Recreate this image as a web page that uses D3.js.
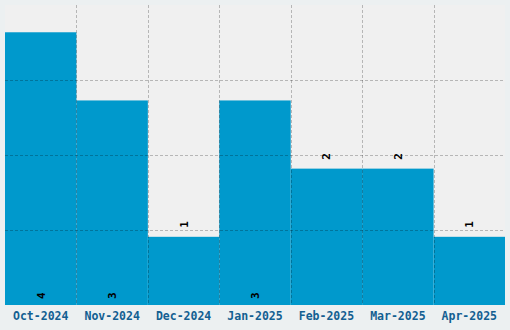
<!DOCTYPE html>
<html>
<head>
<meta charset="utf-8">
<script src="https://cdn.jsdelivr.net/npm/d3@7"></script>
<style>
  body { margin: 0; background: #ecf0f1; }
  svg { display: block; }
  text { font-family: "DejaVu Sans Mono", "Liberation Mono", monospace; font-weight: bold; }
</style>
</head>
<body>
<svg></svg>
<script>
// Data
const months = ["Oct-2024", "Nov-2024", "Dec-2024", "Jan-2025", "Feb-2025", "Mar-2025", "Apr-2025"];
const counts = [4, 3, 1, 3, 2, 2, 1];

const W = 510, H = 330;
const margin = {top: 5, right: 5, bottom: 25, left: 5},
      width = W - margin.left - margin.right,
      height = H - margin.top - margin.bottom;

const svg = d3.select("svg")
              .attr("width", W)
              .attr("height", H)
              .append("g")
              .attr("transform", `translate(${margin.left},${margin.top})`);

// Plot background
svg.append("rect")
   .attr("width", width)
   .attr("height", height)
   .attr("fill", "#f0f0f0");

const x = d3.scaleBand()
            .domain(months)
            .range([0, width])
            .padding(0);

const yMax = d3.max(counts) * 1.1;
const y = d3.scaleLinear()
            .domain([0, yMax])
            .range([height, 0]);

const data = months.map((m, i) => ({month: m, value: counts[i]}));

// Bars
svg.selectAll(".bar")
   .data(data)
   .enter()
   .append("rect")
   .attr("class", "bar")
   .attr("x", d => x(d.month))
   .attr("y", d => y(d.value))
   .attr("width", x.bandwidth())
   .attr("height", d => height - y(d.value))
   .attr("fill", "#0099cc");

// Grid lines drawn over the bars
const yTicks = d3.range(1, 4).map(i => yMax * i / 4);
svg.append("g")
   .selectAll("line")
   .data(yTicks)
   .enter()
   .append("line")
   .attr("x1", 0)
   .attr("x2", width)
   .attr("y1", d => Math.round(y(d)) + 0.5)
   .attr("y2", d => Math.round(y(d)) + 0.5)
   .attr("stroke", "rgba(0,0,0,0.24)")
   .attr("stroke-dasharray", "3,2");

svg.append("g")
   .selectAll("line")
   .data(months.slice(1))
   .enter()
   .append("line")
   .attr("x1", d => Math.round(x(d)) + 0.5)
   .attr("x2", d => Math.round(x(d)) + 0.5)
   .attr("y1", 0)
   .attr("y2", height)
   .attr("stroke", "rgba(0,0,0,0.24)")
   .attr("stroke-dasharray", "3,2");

// Value labels: inside at the base for tall bars, above for short ones
svg.selectAll(".label")
   .data(data)
   .enter()
   .append("text")
   .attr("class", "label")
   .attr("transform", d => {
     const cx = x(d.month) + x.bandwidth() / 2 + 4;
     const cy = d.value >= 3 ? height - 6 : y(d.value) - 9;
     return `translate(${cx},${cy}) rotate(-90)`;
   })
   .style("font-size", "11px")
   .attr("fill", "#000")
   .text(d => d.value);

// X axis labels
svg.append("g")
   .attr("transform", `translate(0,${height})`)
   .call(d3.axisBottom(x).tickSize(0).tickPadding(7))
   .call(g => g.select(".domain").remove())
   .selectAll("text")
   .style("font-size", "11.5px")
   .style("font-family", "'DejaVu Sans Mono', monospace")
   .style("font-weight", "bold")
   .attr("fill", "#135f91");
</script>
</body>
</html>
